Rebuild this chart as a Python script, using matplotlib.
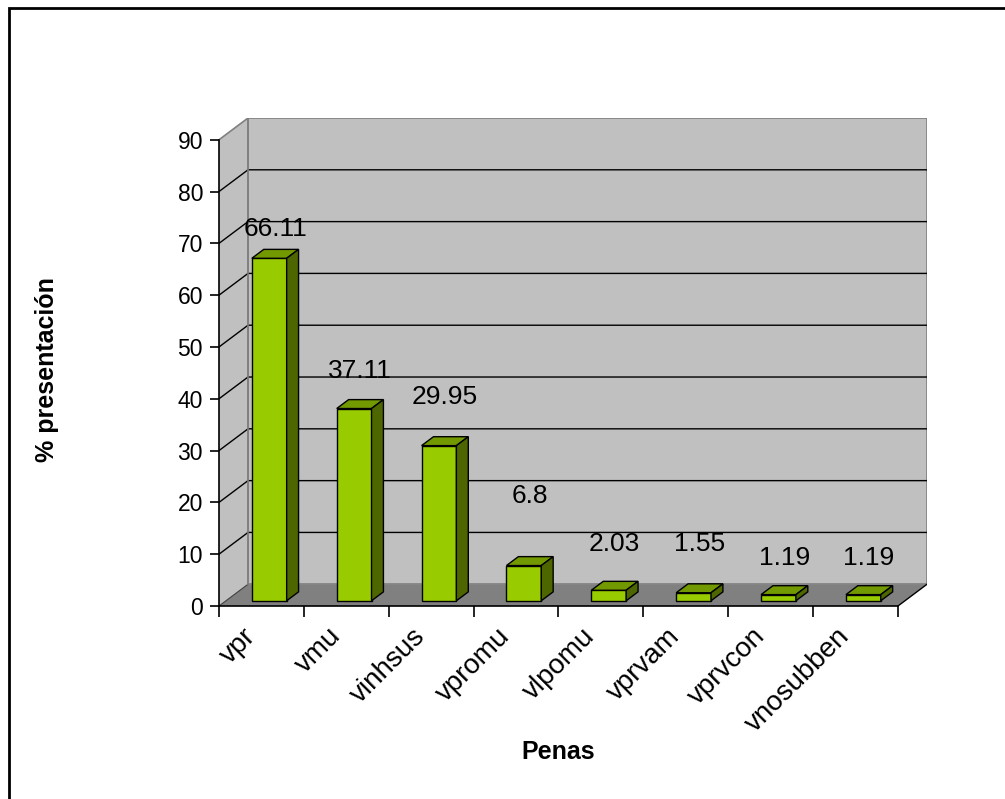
import matplotlib
matplotlib.use("Agg")
import matplotlib.pyplot as plt
from matplotlib.patches import Polygon, Rectangle

plt.rcParams['font.family'] = 'Liberation Sans'

penas = ['vpr', 'vmu', 'vinhsus', 'vpromu', 'vlpomu', 'vprvam', 'vprvcon', 'vnosubben']
porcentaje = [66.11, 37.11, 29.95, 6.8, 2.03, 1.55, 1.19, 1.19]
yticks = [0, 10, 20, 30, 40, 50, 60, 70, 80, 90]

# how far above each bar its value label sits (value units)
label_lift = [6.6, 8.3, 10.4, 14.4, 9.9, 10.4, 8.1, 8.1]

# fake 3D: depth shift of the back wall, in data units
DX, DY = 0.342, 4.2
F0, F1 = 0.24, 0.65          # bar front / back as a fraction of the depth
BAR_W, BAR_OFF = 0.41, 0.305

WALL = '#c0c0c0'
FLOOR = '#808080'
EDGE_GREY = '#808080'
FRONT = '#99cc00'
TOP = '#739900'
SIDE = '#4d6600'

n = len(penas)
ymax = yticks[-1]

fig = plt.figure(figsize=(10.05, 7.99), dpi=100)
fig.patch.set_facecolor('white')
ax = fig.add_axes([219 / 1005, 1 - 606 / 799, 708 / 1005, 488 / 799])
ax.set_xlim(0, n + DX)
ax.set_ylim(0, ymax + DY)
ax.patch.set_visible(False)

# walls and floor
ax.add_patch(Polygon([(0, 0), (DX, DY), (DX, ymax + DY), (0, ymax)],
                     closed=True, facecolor=WALL, edgecolor='none', zorder=1))
ax.add_patch(Polygon([(DX, DY), (n + DX, DY), (n + DX, ymax + DY), (DX, ymax + DY)],
                     closed=True, facecolor=WALL, edgecolor=EDGE_GREY, lw=1.2, zorder=1))
ax.add_patch(Polygon([(0, 0), (n, 0), (n + DX, DY), (DX, DY)],
                     closed=True, facecolor=FLOOR, edgecolor='none', zorder=1))
ax.plot([n, n + DX], [0, DY], color='black', lw=1, zorder=2)
ax.plot([0, DX], [0, DY], color='#404040', lw=0.8, zorder=2)

# gridlines across side and back walls
for v in yticks[1:-1]:
    ax.plot([0, DX, n + DX], [v, v + DY, v + DY], color='black', lw=1, zorder=2)
ax.plot([0, DX], [ymax, ymax + DY], color=EDGE_GREY, lw=1.2, zorder=2)
ax.plot([DX, DX], [DY, ymax + DY], color=EDGE_GREY, lw=1.2, zorder=2)

# bars: front face via bar(), top and side faces from the same values
ddx, ddy = (F1 - F0) * DX, (F1 - F0) * DY
for i, v in enumerate(porcentaje):
    x0 = i + BAR_OFF + F0 * DX
    y0 = F0 * DY
    x1, y1 = x0 + BAR_W, y0 + v
    ax.bar(x0, v, width=BAR_W, bottom=y0, align='edge', color=FRONT,
           edgecolor='black', linewidth=1, zorder=4)
    ax.add_patch(Polygon([(x0, y1), (x1, y1), (x1 + ddx, y1 + ddy), (x0 + ddx, y1 + ddy)],
                         closed=True, facecolor=TOP, edgecolor='black', lw=1, zorder=4))
    ax.add_patch(Polygon([(x1, y0), (x1 + ddx, y0 + ddy), (x1 + ddx, y1 + ddy), (x1, y1)],
                         closed=True, facecolor=SIDE, edgecolor='black', lw=1, zorder=4))
    ax.text(i + 0.66, v + label_lift[i], f'{v:g}', ha='center', va='center',
            fontsize=19, zorder=5)

# axes
for s in ['top', 'right']:
    ax.spines[s].set_visible(False)
ax.spines['left'].set_bounds(0, ymax)
ax.spines['bottom'].set_bounds(0, n)
for s in ['left', 'bottom']:
    ax.spines[s].set_linewidth(1.2)
    ax.spines[s].set_zorder(6)

ax.set_yticks(yticks)
ax.tick_params(axis='y', length=6.5, width=1.2, pad=5, labelsize=16.5)
ax.set_xticks(range(n + 1))
ax.set_xticklabels([])
ax.tick_params(axis='x', which='major', length=8, width=1.2)

# category names, slanted under each slot
for i, name in enumerate(penas):
    ax.annotate(name, xy=(i + 0.5, 0), xytext=(-7, -19), textcoords='offset points',
                rotation=45, rotation_mode='anchor', ha='right', va='center',
                fontsize=20, annotation_clip=False)

fig.text(47 / 1005, 1 - 370 / 799, '% presentación', rotation=90, fontsize=18,
         fontweight='bold', ha='center', va='center')
fig.text(558 / 1005, 1 - 752 / 799, 'Penas', fontsize=18, fontweight='bold',
         ha='center', va='center')

# outer chart border (runs off the right and bottom edges)
fig.add_artist(Rectangle((9 / 1005, -0.2), 1.2, 1.2 - 8 / 799,
                         transform=fig.transFigure, fill=False,
                         edgecolor='black', lw=2))

fig.savefig('out.png', dpi=100)
